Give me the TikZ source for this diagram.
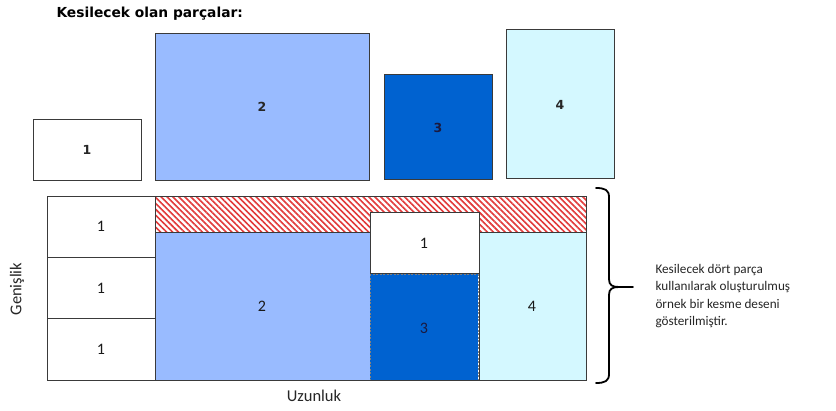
\documentclass[tikz,border=0pt]{standalone}
\usepackage{fontspec}
\setmainfont{Carlito}
\newfontfamily\djv{DejaVu Sans}
\usetikzlibrary{patterns.meta}
\definecolor{edge}{HTML}{3A3A3A}
\definecolor{pcA}{HTML}{99BBFF}
\definecolor{pcB}{HTML}{0062D0}
\definecolor{pcC}{HTML}{D4F8FF}
\definecolor{hatch}{HTML}{E23A3A}
\definecolor{navy}{HTML}{1A1A40}
\tikzset{
  piece/.style={draw=edge,line width=0.8pt},
  toplbl/.style={font=\djv\bfseries\fontsize{12.5}{14}\selectfont,text=black!85},
  botlbl/.style={font=\fontsize{16}{18}\selectfont,text=black!90},
  caption/.style={font=\fontsize{16.5}{18}\selectfont,text=black!85}
}
\begin{document}
\begin{tikzpicture}[x=1pt,y=-1pt]
\useasboundingbox[fill=white] (0,0) rectangle (836,410);
% title
\node[anchor=west,font=\djv\bfseries\fontsize{13.8}{16}\selectfont] (title) at (53,14) {Kesilecek olan parçalar:};
% top pieces
\draw[piece,fill=white] (33,119) rectangle (141,180);
\node[toplbl] (t1) at (87,150) {1};
\draw[piece,fill=pcA] (155,33) rectangle (369,180);
\node[toplbl] (t2) at (262,107) {2};
\draw[piece,fill=pcB] (384,74) rectangle (492,179);
\node[toplbl,text=navy] (t3) at (438,128) {3};
\draw[piece,fill=pcC] (506,29) rectangle (614,178);
\node[toplbl] (t4) at (560,105) {4};
% bottom layout
\fill[white] (155,196) rectangle (586,232);
\fill[pattern={Lines[angle=-45,distance=4.2pt,line width=1.6pt]},pattern color=hatch] (155,196) rectangle (586,232);
\draw[piece,fill=white] (47,196) rectangle (155,257);
\draw[piece,fill=white] (47,257) rectangle (155,318);
\draw[piece,fill=white] (47,318) rectangle (155,380);
\node[botlbl] (b1a) at (101,226) {1};
\node[botlbl] (b1b) at (101,288) {1};
\node[botlbl] (b1c) at (101,349) {1};
\draw[piece,fill=pcA] (155,232) rectangle (370,380);
\node[botlbl] (b2) at (262,306) {2};
\draw[piece,fill=pcC] (479,232) rectangle (586,380);
\node[botlbl] (b4) at (532,306) {4};
\draw[piece,fill=pcB,draw=gray,dashed,dash pattern=on 2pt off 1.5pt] (370,274) rectangle (478,380);
\node[botlbl,text=navy] (b3) at (424,328) {3};
\draw[piece,fill=white] (370,212) rectangle (479,273);
\node[botlbl] (b1d) at (424,243) {1};
\draw[piece] (47,196) rectangle (586,380);
% axis labels
\node[caption,rotate=90] (gen) at (17,289) {Genişlik};
\node[caption] (uz) at (314,396) {Uzunluk};
% brace
\draw[line width=1.8pt,line cap=round] (596,188) .. controls (605,188) and (609,190) .. (609,197) -- (609,279)
  .. controls (609,285) and (612,287) .. (619,287) -- (633,287);
\draw[line width=1.8pt,line cap=round] (619,287) .. controls (612,287) and (609,289) .. (609,295) -- (609,374)
  .. controls (609,381) and (605,383) .. (596,383);
\coordinate (tip) at (633,287);
\node[anchor=west,align=left,text=black!85,font=\fontsize{13.2}{17.4}\selectfont] (desc) at (652,296)
  {Kesilecek dört parça\\kullanılarak oluşturulmuş\\örnek bir kesme deseni\\gösterilmiştir.};
\end{tikzpicture}
\end{document}
